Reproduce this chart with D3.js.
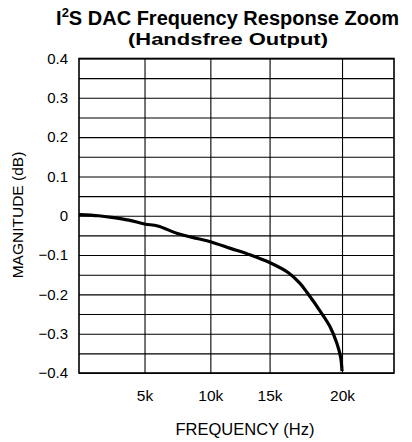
<!DOCTYPE html>
<html>
  <head lang="en">
    <meta charset="utf-8">
    <title>I2S DAC Frequency Response Zoom</title>
    <script type="text/javascript" src="https://cdn.jsdelivr.net/npm/d3@7"></script>
    <style>
      body { margin: 0; background: #fff; }
      text { font-family: "Liberation Sans", Arial, sans-serif; fill: #000; }
    </style>
  </head>
  <body>
    <script type="text/javascript">

      // frequency response (Hz, dB)
      var freq = [0, 1500, 2500, 3800, 5000, 6000, 7500, 9000, 10000, 11700,
                  13400, 15000, 16300, 17100, 17600, 18500, 19200, 19650, 19900, 20000];
      var magnitude = [0.003, 0.0, -0.004, -0.011, -0.021, -0.026, -0.045, -0.058, -0.066, -0.083,
                       -0.100, -0.119, -0.145, -0.172, -0.196, -0.243, -0.284, -0.325, -0.359, -0.395];

      // axis ticks
      var xTicks = [5000, 10000, 15000, 20000];
      var xTickLabels = ["5k", "10k", "15k", "20k"];
      var yTicks = [0.4, 0.3, 0.2, 0.1, 0, -0.1, -0.2, -0.3, -0.4];
      var yGrid = d3.range(-0.4, 0.4001, 0.05);

      var margin = {top: 58.5, right: 18, bottom: 69, left: 79};
      var width = 412 - margin.left - margin.right;
      var height = 442 - margin.top - margin.bottom;

      var svg = d3.select("body")
                  .append("svg")
                  .attr("width", 412)
                  .attr("height", 442);

      var g = svg.append("g")
                 .attr("transform", "translate(" + margin.left + "," + margin.top + ")");

      // the original grid is not evenly spaced, so use a piecewise scale
      var x = d3.scaleLinear()
                .domain([0, 5000, 10000, 15000, 20000, 24000])
                .range([0, 0.208, 0.417, 0.605, 0.835, 1].map(function(f) { return f * width; }));

      var y = d3.scaleLinear()
                .domain([-0.4, 0.4])
                .range([height, 0]);

      // horizontal grid
      g.append("g")
       .attr("class", "grid")
       .call(d3.axisLeft(y).tickValues(yGrid).tickSize(-width).tickFormat(""))
       .call(function(s) { s.select(".domain").remove(); });

      // vertical grid
      g.append("g")
       .attr("class", "grid")
       .attr("transform", "translate(0," + height + ")")
       .call(d3.axisBottom(x).tickValues(xTicks).tickSize(-height).tickFormat(""))
       .call(function(s) { s.select(".domain").remove(); });

      g.selectAll(".grid line")
       .attr("stroke", "#000")
       .attr("stroke-width", 1.1);

      // frame
      g.append("rect")
       .attr("width", width)
       .attr("height", height)
       .attr("fill", "none")
       .attr("stroke", "#000")
       .attr("stroke-width", 1.6);

      // y tick labels
      g.append("g")
       .call(d3.axisLeft(y).tickValues(yTicks).tickSize(0).tickPadding(11)
               .tickFormat(function(d) { return d === 0 ? "0" : d3.format(".1f")(d); }))
       .call(function(s) {
         s.select(".domain").remove();
         s.selectAll("text").attr("font-size", 15).style("font-family", "Liberation Sans, Arial, sans-serif");
       });

      // x tick labels
      g.append("g")
       .attr("transform", "translate(0," + height + ")")
       .call(d3.axisBottom(x).tickValues(xTicks).tickSize(0).tickPadding(17)
               .tickFormat(function(d, i) { return xTickLabels[i]; }))
       .call(function(s) {
         s.select(".domain").remove();
         s.selectAll("text").attr("font-size", 15.5).style("font-family", "Liberation Sans, Arial, sans-serif");
       });

      // response curve
      var data = freq.map(function(f, i) { return {f: f, m: magnitude[i]}; });
      var line = d3.line()
                   .x(function(d) { return x(d.f); })
                   .y(function(d) { return y(d.m); })
                   .curve(d3.curveCatmullRom.alpha(0.5));

      g.append("path")
       .datum(data)
       .attr("fill", "none")
       .attr("stroke", "#000")
       .attr("stroke-width", 3.2)
       .attr("stroke-linejoin", "round")
       .attr("d", line);

      // titles
      svg.append("text")
         .attr("x", 227.5)
         .attr("y", 24.5)
         .attr("text-anchor", "middle")
         .attr("font-size", 20)
         .attr("font-weight", "bold")
         .html("I<tspan font-size='13' dy='-8'>2</tspan><tspan dy='8'>S DAC Frequency Response Zoom</tspan>");

      svg.append("text")
         .attr("x", 228)
         .attr("y", 44.5)
         .attr("text-anchor", "middle")
         .attr("font-size", 17)
         .attr("font-weight", "bold")
         .attr("textLength", 200)
         .attr("lengthAdjust", "spacingAndGlyphs")
         .text("(Handsfree Output)");

      svg.append("text")
         .attr("x", 245)
         .attr("y", 435)
         .attr("text-anchor", "middle")
         .attr("font-size", 16.5)
         .text("FREQUENCY (Hz)");

      svg.append("text")
         .attr("transform", "translate(23,215) rotate(-90)")
         .attr("text-anchor", "middle")
         .attr("font-size", 15.5)
         .text("MAGNITUDE (dB)");
    </script>
  </body>
</html>
